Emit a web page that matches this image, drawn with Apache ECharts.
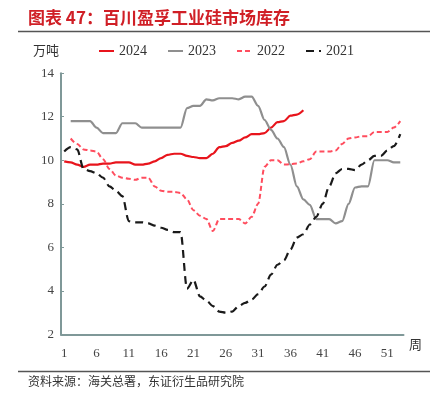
<!DOCTYPE html>
<html>
<head>
<meta charset="utf-8">
<script src="https://cdn.jsdelivr.net/npm/echarts@6/dist/echarts.min.js"></script>
<style>
  html, body { margin: 0; padding: 0; background: #fff; }
  #main { width: 432px; height: 398px; }
</style>
</head>
<body>
<div id="main"></div>
<script>
// weeks 1..53
const weeks = [];
for (let i = 1; i <= 53; i++) weeks.push(String(i));

const yTicks = [2, 4, 6, 8, 10, 12, 14];

const s2024 = [
  9.95, 9.9, 9.8, 9.7, 9.8, 9.8, 9.85, 9.85, 9.9, 9.9,
  9.9, 9.8, 9.8, 9.85, 9.95, 10.1, 10.25, 10.3, 10.3, 10.2,
  10.15, 10.1, 10.1, 10.3, 10.6, 10.65, 10.8, 10.9, 11.05, 11.2,
  11.2, 11.25, 11.5, 11.75, 11.8, 12.05, 12.1, 12.3
];

const s2023 = [
  null, 11.8, 11.8, 11.8, 11.8, 11.5, 11.25, 11.25, 11.25, 11.7,
  11.7, 11.7, 11.5, 11.5, 11.5, 11.5, 11.5, 11.5, 11.5, 12.4,
  12.5, 12.5, 12.8, 12.75, 12.85, 12.85, 12.85, 12.8, 12.92, 12.92,
  12.5, 11.85, 11.4, 11.0, 10.6, 9.8, 8.8, 8.2, 7.95, 7.3,
  7.3, 7.3, 7.1, 7.2, 8.0, 8.75, 8.8, 8.8, 10.0, 10.0,
  10.0, 9.9, 9.9
];

const s2022 = [
  null, 11.0, 10.75, 10.5, 10.45, 10.4, 10.05, 9.6, 9.3, 9.2,
  9.15, 9.1, 9.2, 9.2, 8.8, 8.6, 8.55, 8.55, 8.5, 8.2,
  7.7, 7.45, 7.3, 6.75, 7.3, 7.3, 7.3, 7.3, 7.1, 7.4,
  8.0, 9.7, 10.0, 10.0, 9.8, 9.82, 9.85, 9.95, 10.05, 10.4,
  10.4, 10.4, 10.45, 10.75, 11.0, 11.05, 11.1, 11.1, 11.3, 11.3,
  11.3, 11.5, 11.8
];

const s2021 = [
  10.4, 10.6, 10.5, 9.6, 9.5, 9.4, 9.2, 8.8, 8.6, 8.35,
  7.2, 7.15, 7.15, 7.1, 7.0, 6.9, 6.8, 6.7, 6.7, 4.1,
  4.5, 3.75, 3.55, 3.3, 3.05, 3.0, 3.05, 3.3, 3.45, 3.6,
  3.85, 4.2, 4.75, 5.2, 5.4, 5.9, 6.45, 6.6, 7.05, 7.4,
  8.0, 8.8, 9.4, 9.6, 9.6, 9.55, 9.8, 10.0, 10.2, 10.2,
  10.45, 10.65, 11.2
];

const chart = echarts.init(document.getElementById('main'));

const serif = '"Liberation Serif", "DejaVu Serif", serif';
const cjk = '"Noto Sans CJK SC", sans-serif';
const axisColor = '#7f9898';

function line(name, data, color, type, width) {
  return {
    name: name,
    type: 'line',
    data: data,
    symbol: 'none',
    smooth: 0.3,
    smoothMonotone: 'x',
    lineStyle: { color: color, width: width, type: type, cap: 'butt', join: 'round' },
    itemStyle: { color: color }
  };
}

const option = {
  animation: false,
  textStyle: { fontFamily: serif },
  graphic: [
    { type: 'text', left: 28, top: 9,
      style: { text: '图表 47：百川盈孚工业硅市场库存', fill: '#d01f26',
               font: 'bold 17px ' + cjk } },
    { type: 'line', shape: { x1: 18, y1: 31.5, x2: 430, y2: 31.5 },
      style: { stroke: '#555', lineWidth: 1.5 } },
    { type: 'text', left: 33, top: 44,
      style: { text: '万吨', fill: '#333', font: '13px ' + cjk } },
    { type: 'text', left: 409, top: 338,
      style: { text: '周', fill: '#333', font: '13px ' + cjk } },
    { type: 'line', shape: { x1: 18, y1: 371.5, x2: 430, y2: 371.5 },
      style: { stroke: '#555', lineWidth: 1.5 } },
    { type: 'text', left: 28, top: 375,
      style: { text: '资料来源：海关总署，东证衍生品研究院', fill: '#333',
               font: '12px ' + cjk } }
  ],
  legend: {
    left: 98, top: 44, padding: 0,
    itemWidth: 15, itemHeight: 10, itemGap: 20,
    itemStyle: { opacity: 0 },
    textStyle: { fontFamily: serif, fontSize: 14, color: '#333' },
    data: ['2024', '2023', '2022', '2021']
  },
  grid: { left: 61, right: 28.5, top: 73.2, bottom: 63.6 },
  xAxis: {
    type: 'category',
    data: weeks,
    boundaryGap: true,
    axisLine: { lineStyle: { color: axisColor, width: 2 } },
    axisTick: { alignWithLabel: true, inside: true, length: 3, interval: 4,
                lineStyle: { color: axisColor } },
    axisLabel: { interval: 4, margin: 13, fontFamily: serif, fontSize: 13, color: '#444' }
  },
  yAxis: {
    type: 'value',
    min: yTicks[0], max: yTicks[yTicks.length - 1], interval: 2,
    splitLine: { show: false },
    axisLine: { show: true, lineStyle: { color: axisColor, width: 2 } },
    axisTick: { show: true, inside: true, length: 3, lineStyle: { color: axisColor } },
    axisLabel: { margin: 7, fontFamily: serif, fontSize: 13, color: '#444' }
  },
  series: [
    line('2024', s2024, '#e8141c', 'solid', 2.2),
    line('2023', s2023, '#8f8f8f', 'solid', 2.2),
    line('2022', s2022, '#ff4d5e', [5, 3], 2),
    line('2021', s2021, '#1a1a1a', [8, 5], 2.2)
  ]
};

chart.setOption(option);
</script>
</body>
</html>
